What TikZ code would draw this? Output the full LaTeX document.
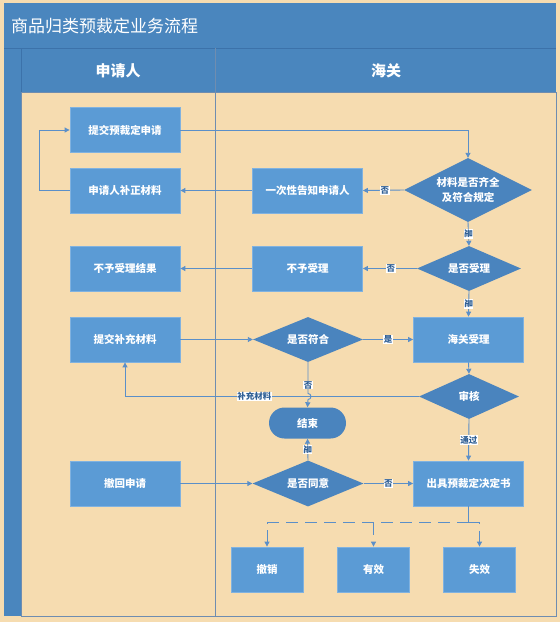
\documentclass[tikz,border=0pt]{standalone}
\usepackage{fontspec}
\setmainfont{Noto Sans CJK SC}
\usetikzlibrary{shapes.geometric,arrows.meta,calc}
\definecolor{bg}{HTML}{F6DCB0}
\definecolor{hdr}{HTML}{4A86BE}
\definecolor{hdrline}{HTML}{3C72AA}
\definecolor{boxfill}{HTML}{5B9BD5}
\definecolor{boxline}{HTML}{80B2E0}
\definecolor{diafill}{HTML}{4A84BE}
\definecolor{ln}{HTML}{5B8FC8}
\definecolor{lbltext}{HTML}{2F5F95}
\definecolor{laneline}{HTML}{6F8DB0}
\begin{document}
\begin{tikzpicture}[x=1pt,y=-1pt,
  proc/.style={rectangle, fill=boxfill, draw=boxline, line width=0.8pt,
    minimum width=110pt, minimum height=45pt, inner sep=0pt, text=white,
    font=\bfseries\fontsize{10.5}{15}\selectfont, align=center},
  small/.style={proc, minimum width=72pt},
  dec/.style={diamond, fill=diafill, draw=none, aspect=2, inner sep=0pt,
    text=white, font=\bfseries\fontsize{10.5}{15}\selectfont, align=center},
  term/.style={rectangle, rounded corners=15.5pt, fill=diafill, draw=none,
    minimum width=77pt, minimum height=31pt, inner sep=0pt, text=white,
    font=\bfseries\fontsize{10.5}{15}\selectfont},
  arr/.style={draw=ln, line width=0.9pt, -{Triangle[length=5pt,width=5pt]}},
  con/.style={draw=ln, line width=0.9pt},
  lbl/.style={fill=white, inner sep=0.6pt, text=lbltext,
    font=\bfseries\fontsize{8.5}{9}\selectfont},
  vlbl/.style={lbl, rotate=-90}
]
\useasboundingbox (0,0) rectangle (560,622);
\fill[bg] (0,0) rectangle (560,622);
% title bar
\fill[hdr] (4,3) rectangle (556,48);
\node[anchor=west, text=white, font=\fontsize{17}{20}\selectfont, inner sep=0pt] (title) at (11,26) {商品归类预裁定业务流程};
% left bar and header
\fill[hdr] (4,48) rectangle (21,616);
\fill[hdr] (21,48) rectangle (556,92);
\draw[hdrline, line width=0.6pt] (4,48) -- (556,48);
\draw[hdrline, line width=0.6pt] (21,48) -- (21,616);
\draw[laneline, line width=0.8pt] (21,92) rectangle (556,616);
\draw[laneline, line width=0.8pt] (215,48) -- (215,616);
\node[text=white, font=\bfseries\fontsize{15}{18}\selectfont] (lane1) at (118,71) {申请人};
\node[text=white, font=\bfseries\fontsize{15}{18}\selectfont] (lane2) at (386,71) {海关};

% nodes
\node[proc] (n1) at (125,130) {提交预裁定申请};
\node[proc] (n2) at (125,190.5) {申请人补正材料};
\node[proc] (n3) at (307.5,190.5) {一次性告知申请人};
\node[dec, minimum width=128pt, minimum height=64pt] (d1) at (468,190) {材料是否齐全\\及符合规定};
\node[proc] (n4) at (125,268.5) {不予受理结果};
\node[proc] (n5) at (307.5,268.5) {不予受理};
\node[dec, minimum width=104pt, minimum height=45pt] (d2) at (469,268.5) {是否受理};
\node[proc] (n6) at (125,339.5) {提交补充材料};
\node[dec, minimum width=110pt, minimum height=45pt] (d3) at (308,339.5) {是否符合};
\node[proc] (n7) at (468.5,339.5) {海关受理};
\node[dec, minimum width=100pt, minimum height=45pt] (d4) at (469,396.5) {审核};
\node[term] (e) at (307.5,423) {结束};
\node[proc] (n8) at (125,483.5) {撤回申请};
\node[dec, minimum width=111pt, minimum height=46pt] (d5) at (308,483.5) {是否同意};
\node[proc] (n9) at (468.5,483.5) {出具预裁定决定书};
\node[small] (b1) at (267,569.5) {撤销};
\node[small] (b2) at (373.5,569.5) {有效};
\node[small] (b3) at (479.5,569.5) {失效};

% connectors
\draw[arr] (n1.east) -| (d1.north);
\draw[arr] (d1.west) -- (n3.east) node[lbl, pos=0.46] (l1) {否};
\draw[arr] (n3.west) -- (n2.east);
\draw[arr] (n2.west) -- ++(-30,0) |- (n1.west);
\draw[arr] (d1.south) -- (d2.north) node[vlbl, midway] (l2) {是};
\draw[arr] (d2.west) -- (n5.east) node[lbl, pos=0.48] (l3) {否};
\draw[arr] (n5.west) -- (n4.east);
\draw[arr] (d2.south) -- (n7.north) node[vlbl, midway] (l4) {是};
\draw[arr] (n6.east) -- (d3.west);
\draw[arr] (d3.east) -- (n7.west) node[lbl, pos=0.5] (l5) {是};
\draw[arr] (n7.south) -- (d4.north);
\draw[arr] (d4.west) -| (n6.south) node[lbl, pos=0.28] (l6) {补充材料};
\coordinate (hop) at (d3.south |- d4.west);
\draw[arr] (d3.south) -- ([yshift=3pt]hop) arc[start angle=90, end angle=-90, radius=3pt] -- (e.north);
\node[lbl] (l7) at (308,385) {否};
\draw[arr] (d5.north) -- (e.south) node[vlbl, midway] (l8) {是};
\draw[arr] (n8.east) -- (d5.west);
\draw[arr] (d5.east) -- (n9.west) node[lbl, pos=0.5] (l9) {否};
\draw[arr] (d4.south) -- (n9.north) node[lbl, midway] (l10) {通过};
\coordinate (j) at ($(n9.south)+(0,16.5)$);
\draw[con] (n9.south) -- (j);
\draw[arr, dash pattern=on 12pt off 7pt] (j) -| (b1.north);
\draw[arr, dash pattern=on 12pt off 7pt] (j) -| (b2.north);
\draw[arr, dash pattern=on 12pt off 7pt] (j) -| (b3.north);
\end{tikzpicture}
\end{document}
